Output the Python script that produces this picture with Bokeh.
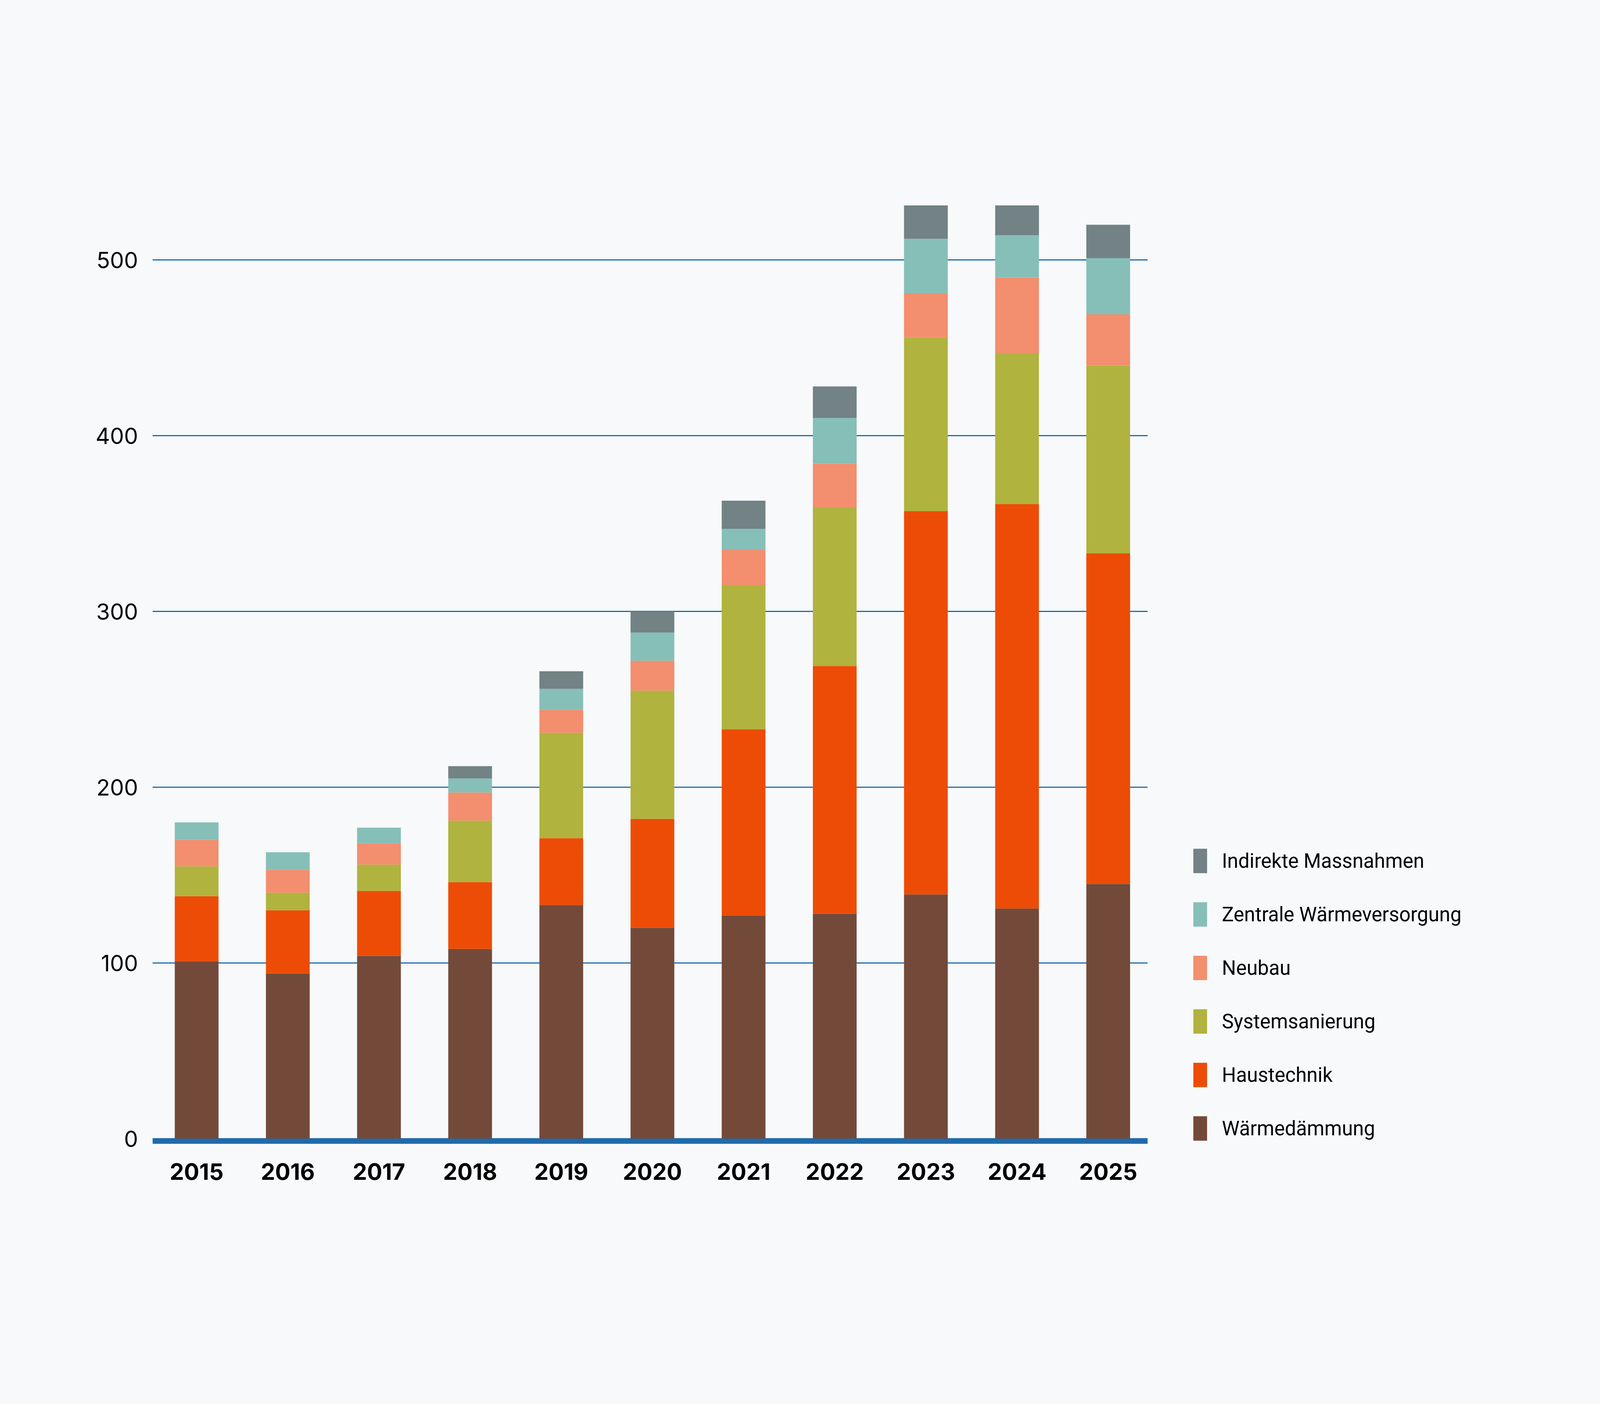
from bokeh.plotting import figure
from bokeh.models import Range1d, FixedTicker, Legend, LegendItem
from bokeh.embed import file_html
from bokeh.resources import INLINE

years = ["2015", "2016", "2017", "2018", "2019", "2020", "2021", "2022", "2023", "2024", "2025"]
waermedaemmung = [101, 94, 104, 108, 133, 120, 127, 128, 139, 131, 145]
haustechnik = [37, 36, 37, 38, 38, 62, 106, 141, 218, 230, 188]
systemsanierung = [17, 10, 15, 35, 60, 73, 82, 90, 99, 86, 107]
neubau = [15, 13, 12, 16, 13, 17, 20, 25, 25, 43, 29]
zentrale = [10, 10, 9, 8, 12, 16, 12, 26, 31, 24, 32]
indirekte = [0, 0, 0, 7, 10, 12, 16, 18, 19, 17, 19]

series_labels = ["Wärmedämmung", "Haustechnik", "Systemsanierung", "Neubau",
                 "Zentrale Wärmeversorgung", "Indirekte Massnahmen"]
series_keys = ["s0", "s1", "s2", "s3", "s4", "s5"]
series_colors = ["#734a3a", "#ed4c07", "#b0b33e", "#f38e6e", "#86bfb8", "#728285"]
y_ticks = [0, 100, 200, 300, 400, 500]

BG = "#f7f9fa"
BLUE = "#1f6bac"

# horizontal extent of the captured page (px) used to place things
CAP_W = 4105
KX = CAP_W / 7200.0
PX_PER_UNIT = 4.5            # vertical px per value unit
CAT_PX = 409.3 * KX          # px per category
X0 = -0.484                  # left end of the chart area (category units)
X1 = 10.432                  # right end of the gridlines (category units)
Y0 = -3.5

W = 4080
H = 3595 - 16

xs = list(range(len(years)))
data = dict(x=xs, s0=waermedaemmung, s1=haustechnik, s2=systemsanierung,
            s3=neubau, s4=zentrale, s5=indirekte)

frame_left = int(round(698 * KX - 8))
frame_right_border = 10
frame_width = W - frame_left - frame_right_border
x_end = X0 + frame_width / CAT_PX
frame_bottom = 2923 + (-Y0) * PX_PER_UNIT - 8
frame_top = 223 - 8
y_end = (frame_bottom - frame_top) / PX_PER_UNIT + Y0

p = figure(width=W, height=H, output_backend="svg", toolbar_location=None,
           x_range=Range1d(X0, x_end), y_range=Range1d(Y0, y_end),
           min_border_left=frame_left, min_border_right=frame_right_border,
           min_border_top=int(round(frame_top)),
           min_border_bottom=int(round(H - frame_bottom)),
           background_fill_color=BG, border_fill_color=BG,
           outline_line_color=None)

# horizontal grid lines limited to the bar area
p.segment(x0=[X0] * len(y_ticks), y0=y_ticks, x1=[X1] * len(y_ticks), y1=y_ticks,
          line_color=BLUE, line_width=3)

renderers = p.vbar_stack(series_keys, x="x", width=0.48, source=data,
                         color=series_colors, line_width=0)

# thick base line just below zero
base_half = 6.5 / PX_PER_UNIT
p.segment(x0=[X0], y0=[-base_half], x1=[X1], y1=[-base_half],
          line_color=BLUE, line_width=13)

xa = p.xaxis[0]
xa.ticker = FixedTicker(ticks=xs)
xa.major_label_overrides = {i: y for i, y in enumerate(years)}
xa.axis_line_color = None
xa.major_tick_line_color = None
xa.minor_tick_line_color = None
xa.major_tick_out = 0
xa.major_tick_in = 0
xa.major_label_standoff = 47
xa.major_label_text_font = "Inter"
xa.major_label_text_font_style = "bold"
xa.major_label_text_font_size = "58px"
xa.major_label_text_color = "#000000"

ya = p.yaxis[0]
ya.ticker = FixedTicker(ticks=y_ticks)
ya.axis_line_color = None
ya.major_tick_line_color = None
ya.minor_tick_line_color = None
ya.major_tick_out = 0
ya.major_tick_in = 0
ya.major_label_standoff = 37
ya.major_label_text_font = "Inter"
ya.major_label_text_font_size = "57px"
ya.major_label_text_color = "#000000"

p.xgrid.grid_line_color = None
p.ygrid.grid_line_color = None

items = [LegendItem(label=lab, renderers=[r]) for lab, r in zip(series_labels, renderers)]
items.reverse()
legend_bottom = (2936 - 8) - frame_bottom
legend = Legend(items=items,
                location=(int(round((5363 - 698) * KX)), int(round(-legend_bottom))),
                orientation="vertical",
                glyph_width=int(round(78 * KX)), glyph_height=78,
                label_standoff=int(round(60 * KX)), spacing=59,
                padding=0, margin=0, border_line_color=None, background_fill_alpha=0,
                label_text_font="Roboto",
                label_text_font_size="51px",
                label_text_color="#000000", label_height=78)
p.add_layout(legend, "center")

html = file_html(p, INLINE)
html = html.replace("<head>", "<head><style>html, body { background-color: %s; }</style>" % BG, 1)
open("out.html", "w").write(html)
